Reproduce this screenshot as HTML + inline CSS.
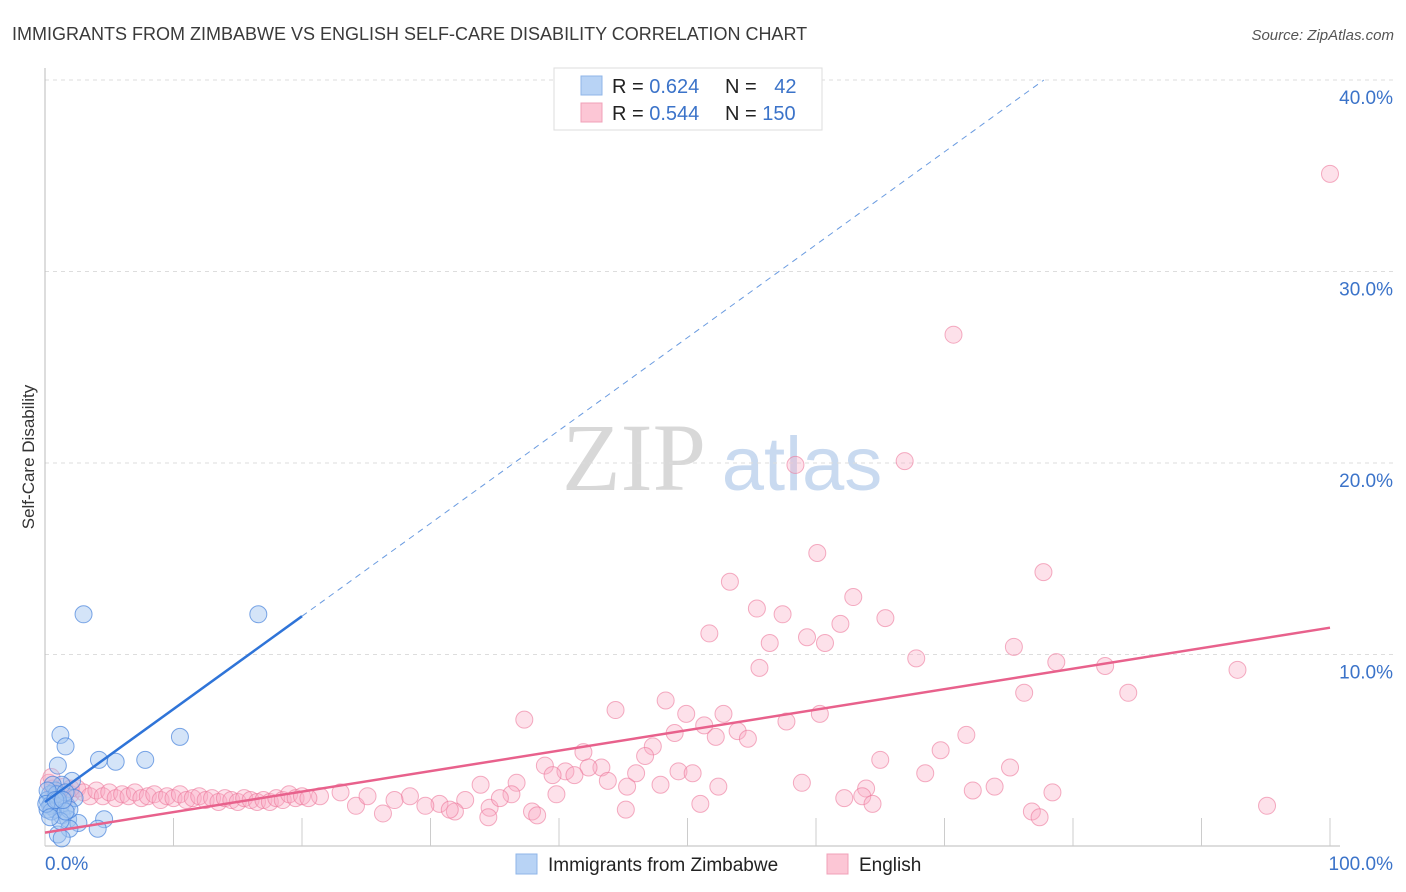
<!DOCTYPE html>
<html><head><meta charset="utf-8"><style>
body{margin:0;background:#fff;font-family:"Liberation Sans",sans-serif;}
#wrap{position:relative;width:1406px;height:892px;overflow:hidden}
</style></head><body>
<div id="wrap">
<svg id="svg" width="1406" height="892" xmlns="http://www.w3.org/2000/svg">
<text x="12" y="40" font-size="18" fill="#3a3a3a">IMMIGRANTS FROM ZIMBABWE VS ENGLISH SELF-CARE DISABILITY CORRELATION CHART</text>
<text x="1394" y="40" font-size="15" fill="#555" text-anchor="end" font-style="italic">Source: ZipAtlas.com</text>
<text x="34" y="457" font-size="17" fill="#333" text-anchor="middle" transform="rotate(-90 34 457)">Self-Care Disability</text>
<g>
<text x="634" y="490" font-size="96" fill="#d8d8d8" font-family="Liberation Serif,serif" text-anchor="middle">ZIP</text>
<text x="802" y="490" font-size="76" fill="#c9daf0" text-anchor="middle">atlas</text>
</g>
<g id="grid"></g><g id="axes"></g><g id="pts"></g><g id="lines"></g>
<g>
<rect x="554" y="68" width="268" height="62" fill="#fff" stroke="#ddd"/>
<rect x="581" y="76" width="21" height="19" fill="#b8d3f5" stroke="#8fb6e8"/>
<rect x="581" y="103" width="21" height="19" fill="#fcc6d5" stroke="#f0a0b8"/>
<text x="612" y="93" font-size="20" fill="#222">R = <tspan fill="#3b73c9">0.624</tspan></text>
<text x="725" y="93" font-size="20" fill="#222">N = <tspan fill="#3b73c9" dx="12">42</tspan></text>
<text x="612" y="120" font-size="20" fill="#222">R = <tspan fill="#3b73c9">0.544</tspan></text>
<text x="725" y="120" font-size="20" fill="#222">N = <tspan fill="#3b73c9">150</tspan></text>
</g>
<g>
<rect x="516" y="854" width="21" height="20" fill="#b8d3f5" stroke="#8fb6e8"/>
<text x="548" y="871" font-size="19" fill="#222">Immigrants from Zimbabwe</text>
<rect x="827" y="854" width="21" height="20" fill="#fcc6d5" stroke="#f0a0b8"/>
<text x="859" y="871" font-size="19" fill="#222">English</text>
</g>
</svg>
</div>
<script>
const yTicks=[10,20,30,40];
const yTickLabels=["10.0%","20.0%","30.0%","40.0%"];
const xTicks=[0,10,20,30,40,50,60,70,80,90,100];
const blueX=[3.0,16.6,1.2,1.6,10.5,4.2,5.5,7.8,1.0,2.1,1.3,0.8,0.4,0.2,0.5,1.2,1.7,2.3,0.8,1.3,1.8,4.6,2.6,4.1,1.9,1.0,1.3,0.4,0.2,0.6,0.9,1.6,0.2,0.5,1.0,0.1,1.9,1.2,0.4,1.6,0.8,1.4];
const blueY=[12.1,12.1,5.8,5.2,5.7,4.5,4.4,4.5,4.2,3.4,3.2,2.9,2.7,2.4,2.2,2.1,2.1,2.5,1.9,1.6,1.4,1.4,1.2,0.9,0.9,0.6,0.4,2.1,1.9,3.2,2.7,2.8,2.9,1.8,2.4,2.2,1.9,1.3,1.5,1.8,2.4,2.4];
const pinkX=[100,70.7,58.4,66.9,60.1,77.7,53.3,62.9,55.4,57.4,51.7,65.4,61.9,59.3,56.4,60.7,75.4,67.8,55.6,78.7,82.5,92.8,76.2,84.3,48.3,44.4,37.3,49.9,52.8,60.3,51.3,57.7,53.9,54.7,49.0,52.2,71.7,47.3,41.9,69.7,46.7,65.0,38.9,43.3,40.5,42.3,41.2,49.3,50.4,75.1,68.5,46.0,39.5,58.9,36.7,33.9,43.8,45.3,47.9,52.4,63.9,63.6,72.2,73.9,78.4,62.2,64.4,51.0,39.8,36.3,32.7,30.7,29.6,28.4,27.2,26.3,24.2,25.1,31.9,34.6,35.4,37.9,34.5,38.3,45.2,76.8,77.4,95.1,31.5,23.0,21.4,
0.3,0.6,1,1.5,2,2.5,3,3.5,4,4.5,5,5.5,6,6.5,7,7.5,8,8.5,9,9.5,10,10.5,11,11.5,12,12.5,13,13.5,14,14.5,15,15.5,16,16.5,17,17.5,18,18.5,19,19.5,20,20.5,0.5,2,1.5];
const pinkY=[35.1,26.7,19.9,20.1,15.3,14.3,13.8,13.0,12.4,12.1,11.1,11.9,11.6,10.9,10.6,10.6,10.4,9.8,9.3,9.6,9.4,9.2,8.0,8.0,7.6,7.1,6.6,6.9,6.9,6.9,6.3,6.5,6.0,5.6,5.9,5.7,5.8,5.2,4.9,5.0,4.7,4.5,4.2,4.1,3.9,4.1,3.7,3.9,3.8,4.1,3.8,3.8,3.7,3.3,3.3,3.2,3.4,3.1,3.2,3.1,3.0,2.6,2.9,3.1,2.8,2.5,2.2,2.2,2.7,2.7,2.4,2.2,2.1,2.6,2.4,1.7,2.1,2.6,1.8,2.0,2.5,1.8,1.5,1.6,1.9,1.8,1.5,2.1,1.9,2.8,2.6,
3.3,3.0,2.8,3.1,2.7,3.0,2.8,2.6,2.9,2.6,2.8,2.5,2.7,2.6,2.8,2.5,2.6,2.7,2.4,2.6,2.5,2.7,2.4,2.5,2.6,2.4,2.5,2.3,2.5,2.4,2.3,2.5,2.4,2.3,2.4,2.3,2.5,2.4,2.7,2.5,2.6,2.5,3.6,3.0,2.4];
const blueFit=[2.3,0.485]; // intercept, slope
const pinkFit=[0.7,0.107];
const NS="http://www.w3.org/2000/svg";
const X=v=>45+v*12.85, Y=v=>846-v*19.15;
function mk(tag,attrs,parent){const e=document.createElementNS(NS,tag);for(const k in attrs)e.setAttribute(k,attrs[k]);document.getElementById(parent).appendChild(e);return e;}
yTicks.forEach((t,i)=>{
 const g=mk('line',{x1:45,x2:1395,y1:Y(t),y2:Y(t),stroke:'#ddd','stroke-dasharray':'4,4'},'grid');
 
 
 const l=mk('text',{x:1393,y:Y(t)+24,'font-size':19,fill:'#3b73c9','text-anchor':'end'},'axes');
 l.textContent=yTickLabels[i];
 
 
});
const ya=mk('line',{x1:45,x2:45,y1:68,y2:846,stroke:'#bbb'},'axes');


const xa=mk('line',{x1:45,x2:1340,y1:846,y2:846,stroke:'#bbb'},'axes');


xTicks.forEach(t=>{
 const k=mk('line',{x1:X(t),x2:X(t),y1:818,y2:846,stroke:'#ccc'},'axes');
 
 
});
const x0=mk('text',{x:45,y:870,'font-size':19,fill:'#3b73c9'},'axes');x0.textContent='0.0%';


const x1=mk('text',{x:1393,y:870,'font-size':19,fill:'#3b73c9','text-anchor':'end'},'axes');x1.textContent='100.0%';


pinkX.forEach((v,i)=>{
 const c=mk('circle',{cx:X(v),cy:Y(pinkY[i]),r:8.5,fill:'rgba(248,170,195,0.35)',stroke:'rgba(236,120,155,0.6)','stroke-width':1},'pts');
 
 
});
blueX.forEach((v,i)=>{
 const c=mk('circle',{cx:X(v),cy:Y(blueY[i]),r:8.5,fill:'rgba(160,195,240,0.45)',stroke:'rgba(70,130,220,0.7)','stroke-width':1},'pts');
 
 
});
const bl=mk('line',{x1:X(0),y1:Y(blueFit[0]),x2:X(20),y2:Y(blueFit[0]+blueFit[1]*20),stroke:'#2f74d8','stroke-width':2.5},'lines');


const xe=(40-blueFit[0])/blueFit[1];
const bd=mk('line',{x1:X(20),y1:Y(blueFit[0]+blueFit[1]*20),x2:X(xe),y2:Y(40),stroke:'#6a9be0','stroke-width':1,'stroke-dasharray':'6,5'},'lines');


const pl=mk('line',{x1:X(0),y1:Y(pinkFit[0]),x2:X(100),y2:Y(pinkFit[0]+pinkFit[1]*100),stroke:'#e8618c','stroke-width':2.5},'lines');


</script>
</body></html>
